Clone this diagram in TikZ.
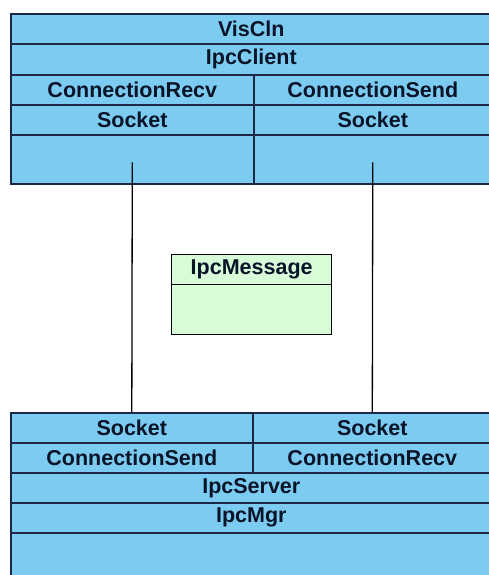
\documentclass[tikz,border=0pt]{standalone}
\usepackage{fontspec}
\setmainfont{Liberation Sans}
\definecolor{cellblue}{RGB}{124,204,242}
\definecolor{cellgreen}{RGB}{216,252,216}
\definecolor{edge}{RGB}{28,40,72}
\definecolor{txt}{RGB}{10,20,40}
\begin{document}
\begin{tikzpicture}[x=1pt,y=-1pt,
  cell/.style={draw=edge, line width=1.6pt, fill=cellblue, rectangle, inner sep=0pt,
    anchor=north west, minimum height=30pt, font=\fontsize{21.5}{23}\selectfont\bfseries, text=txt},
  msg/.style={cell, fill=cellgreen, draw=black, line width=1.3pt},
  link/.style={draw=black, line width=1.3pt}]
\useasboundingbox (0,0) rectangle (489,575);
\clip (0,0) rectangle (489,575);
\fill[white] (0,0) rectangle (489,575);
% top block
\node[cell, minimum width=481pt] (viscln) at (10,13) {VisCln};
\node[cell, minimum width=481pt, minimum height=31pt] (ipcclient) at (10,43) {IpcClient};
\node[cell, minimum width=243pt] (crecvT) at (10,74) {ConnectionRecv};
\node[cell, minimum width=238pt] (csendT) at (253,74) {ConnectionSend};
\node[cell, minimum width=243pt] (sockTL) at (10,104) {Socket};
\node[cell, minimum width=238pt] (sockTR) at (253,104) {Socket};
\node[cell, minimum width=243pt, minimum height=49pt] (emptyTL) at (10,134) {};
\node[cell, minimum width=238pt, minimum height=49pt] (emptyTR) at (253,134) {};
% message
\node[msg, minimum width=160pt] (msgH) at (171,254) {IpcMessage};
\node[msg, minimum width=160pt, minimum height=50pt] (msgB) at (171,284) {};
% bottom block
\node[cell, minimum width=242pt] (sockBL) at (10,412) {Socket};
\node[cell, minimum width=239pt] (sockBR) at (252,412) {Socket};
\node[cell, minimum width=242pt] (csendB) at (10,442) {ConnectionSend};
\node[cell, minimum width=239pt] (crecvB) at (252,442) {ConnectionRecv};
\node[cell, minimum width=481pt] (ipcserver) at (10,472) {IpcServer};
\node[cell, minimum width=481pt] (ipcmgr) at (10,502) {IpcMgr};
\node[cell, minimum width=481pt, minimum height=60pt] (emptyB) at (10,532) {};
% connectors
\coordinate (startL) at ([yshift=-3pt]emptyTL.center);
\coordinate (startR) at ([yshift=-3pt]emptyTR.center);
\draw[link] (startL) -- (sockBL.north);
\draw[link] (startR) -- (sockBR.north);
\end{tikzpicture}
\end{document}
